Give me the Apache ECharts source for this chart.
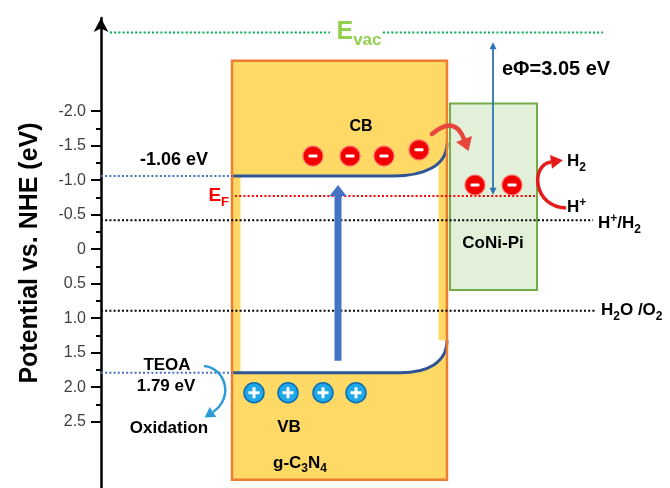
<!DOCTYPE html>
<html>
<head>
<meta charset="utf-8">
<script src="https://cdn.jsdelivr.net/npm/echarts@6/dist/echarts.min.js"></script>
<style>
  html, body { margin: 0; padding: 0; background: #fff; }
  #chart { width: 670px; height: 488px; }
</style>
</head>
<body>
<div id="chart"></div>
<script>
// ---- Potential scale (eV vs. NHE) ----
const majorTicks = [-2.0, -1.5, -1.0, -0.5, 0, 0.5, 1.0, 1.5, 2.0, 2.5];
const minorTicks = [-1.75, -1.25, -0.75, -0.25, 0.25, 0.75, 1.25, 1.75, 2.25];

// ---- g-C3N4 bands ----
const cbLevel = -1.06;          // conduction band minimum
const vbLevel = 1.79;           // valence band maximum
const cbBentEdge = -1.54;       // band bending at the interface
const vbBentEdge = 1.32;
const gcnExtent = [-2.73, 3.34];

// ---- CoNi-Pi cocatalyst ----
const coniExtent = [-2.11, 0.59];
const fermiLevel = -0.77;
const vacuumLevel = -3.14;

// ---- redox potentials ----
const hPlusH2 = -0.42;
const h2oO2 = 0.89;

// ---- charge carriers ----
const cbElectrons = [-1.35, -1.35, -1.35, -1.44];
const coniElectrons = [-0.93, -0.93];
const vbHoles = [2.08, 2.08, 2.08, 2.08];

// ---- arrows ----
const excitation = [1.615, -0.93];
const workFunction = [-3.0, -0.79];

// ---- horizontal layout of the scheme (x units from the potential axis) ----
const L = {
  gcnLeft: 131, gcnRight: 346, strip: 8.5,
  bendStartCB: 292, bendStartVB: 299,
  coniLeft: 349, coniRight: 436,
  cbElectronX: [212, 249, 283, 318],
  coniElectronX: [374, 411],
  holeX: [153, 187, 222, 255],
  excitationX: 237, phiX: 392,
  evacSegments: [[9, 229], [282, 502]],
  efSpan: [134, 434],
  hLineEnd: 492, oLineEnd: 494
};

const FONT = '"Liberation Sans", Arial, sans-serif';
const C = {
  box: '#FFD966', boxEdge: '#ED7D31', band: '#2F5597', bandDot: '#4472C4',
  coni: '#E2F0D9', coniEdge: '#70AD47', red: '#FF0000', green: '#00B050',
  greenText: '#92D050', blueArrow: '#4472C4', phi: '#2E75B6', teoa: '#2E9BD6'
};

const mctx = document.createElement('canvas').getContext('2d');
function textWidth(str, size) {
  mctx.font = 'bold ' + size + 'px ' + FONT;
  return mctx.measureText(str).width;
}
// parts: [text, fontSize, baselineShift]
function richText(pt, parts, align, color) {
  const widths = parts.map(p => textWidth(p[0], p[1]));
  const total = widths.reduce((a, b) => a + b, 0);
  let x = align === 'left' ? pt[0] : align === 'right' ? pt[0] - total : pt[0] - total / 2;
  const baseline = pt[1] + 0.36 * parts[0][1];
  return {
    type: 'group',
    children: parts.map((p, i) => {
      const el = {
        type: 'text',
        style: {
          x: x, y: baseline + (p[2] || 0) - 0.36 * p[1],
          text: p[0], font: 'bold ' + p[1] + 'px ' + FONT,
          fill: color, align: 'left', verticalAlign: 'middle'
        }
      };
      x += widths[i];
      return el;
    })
  };
}

function arrowHead(base, dir, len, half, color) {
  const n = Math.hypot(dir[0], dir[1]);
  const ux = dir[0] / n, uy = dir[1] / n;
  const tip = [base[0] + ux * len, base[1] + uy * len];
  return {
    type: 'polygon',
    shape: { points: [tip, [base[0] - uy * half, base[1] + ux * half], [base[0] + uy * half, base[1] - ux * half]] },
    style: { fill: color }
  };
}

function levelLine(name, from, to, level, color) {
  return {
    type: 'line', name: name, data: [[from, level], [to, level]],
    symbol: 'none', silent: true, z: 6,
    lineStyle: { color: color, width: 2, type: [2, 2.2] }
  };
}

// text annotations: [x, potential, parts, align, color]
const labels = [
  [73, -1.29, [['-1.06 eV', 18]], 'center', '#000'],
  [128, fermiLevel, [['E', 19], ['F', 13, 4]], 'right', C.red],
  [258, vacuumLevel, [['E', 25], ['vac', 17, 5]], 'center', C.greenText],
  [260, -1.77, [['CB', 16]], 'center', '#000'],
  [401, -2.6, [['eΦ=3.05 eV', 20]], 'left', '#000'],
  [466, -1.27, [['H', 17], ['2', 12, 4]], 'left', '#000'],
  [466, -0.60, [['H', 17], ['+', 12, -7]], 'left', '#000'],
  [497, hPlusH2 + 0.05, [['H', 17], ['+', 12, -7], ['/H', 17], ['2', 12, 4]], 'left', '#000'],
  [392, -0.09, [['CoNi-Pi', 17]], 'center', '#000'],
  [500, h2oO2, [['H', 17], ['2', 12, 4], ['O /O', 17], ['2', 12, 4]], 'left', '#000'],
  [66, 1.68, [['TEOA', 17]], 'center', '#000'],
  [65, 1.98, [['1.79 eV', 17]], 'center', '#000'],
  [68, 2.59, [['Oxidation', 17]], 'center', '#000'],
  [188, 2.58, [['VB', 17]], 'center', '#000'],
  [199, 3.10, [['g-C', 17], ['3', 12, 4], ['N', 17], ['4', 12, 4]], 'center', '#000']
];

const chart = echarts.init(document.getElementById('chart'));

const option = {
  animation: false,
  grid: { left: 101, right: 0, top: 18, bottom: 0 },
  xAxis: { type: 'value', min: 0, max: 569, show: false },
  yAxis: [
    {
      type: 'value', inverse: true, min: -3.35, max: 3.46, position: 'left',
      axisLine: { show: true, symbol: ['none', 'arrow'], symbolSize: [11, 14], lineStyle: { color: '#000', width: 2.5 } },
      axisTick: { show: true, customValues: majorTicks, length: 10, lineStyle: { color: '#000', width: 2 } },
      axisLabel: {
        show: true, customValues: majorTicks, margin: 15,
        formatter: v => (v === 0 ? '0' : v.toFixed(1)),
        color: '#404040', fontSize: 16, fontFamily: FONT
      },
      splitLine: { show: false },
      name: 'Potential vs. NHE (eV)', nameLocation: 'middle', nameGap: 58,
      nameTextStyle: { fontSize: 25, fontWeight: 'bold', color: '#000', fontFamily: FONT }
    },
    {
      type: 'value', inverse: true, min: -3.35, max: 3.46, position: 'left',
      axisLine: { show: false },
      axisTick: { show: true, customValues: minorTicks, length: 5, lineStyle: { color: '#000', width: 2 } },
      axisLabel: { show: false },
      splitLine: { show: false }
    }
  ],
  series: [
    // g-C3N4 block with bent bands
    {
      type: 'custom', z: 2, data: [[0, 0]],
      renderItem: (params, api) => {
        const tl = api.coord([L.gcnLeft, gcnExtent[0]]);
        const br = api.coord([L.gcnRight, gcnExtent[1]]);
        const cbL = api.coord([L.gcnLeft, cbLevel]);
        const cbS = api.coord([L.bendStartCB, cbLevel]);
        const cbE = api.coord([L.gcnRight, cbBentEdge]);
        const vbL = api.coord([L.gcnLeft, vbLevel]);
        const vbS = api.coord([L.bendStartVB, vbLevel]);
        const vbE = api.coord([L.gcnRight, vbBentEdge]);
        const bend = (s, e) => [[s[0] + 0.58 * (e[0] - s[0]), s[1]], [e[0], e[1] + 0.69 * (s[1] - e[1])]];
        const [c1, c2] = bend(cbS, cbE);
        const [v1, v2] = bend(vbS, vbE);
        const P = p => p[0].toFixed(2) + ' ' + p[1].toFixed(2);
        const gap = 'M ' + P(cbL) + ' L ' + P(cbS) + ' C ' + P(c1) + ' ' + P(c2) + ' ' + P(cbE) +
          ' L ' + P(vbE) + ' C ' + P(v2) + ' ' + P(v1) + ' ' + P(vbS) + ' L ' + P(vbL) + ' Z';
        const cbPath = 'M ' + P(cbL) + ' L ' + P(cbS) + ' C ' + P(c1) + ' ' + P(c2) + ' ' + P(cbE);
        const vbPath = 'M ' + P(vbL) + ' L ' + P(vbS) + ' C ' + P(v1) + ' ' + P(v2) + ' ' + P(vbE);
        const w = br[0] - tl[0], h = br[1] - tl[1];
        return {
          type: 'group',
          children: [
            { type: 'rect', shape: { x: tl[0], y: tl[1], width: w, height: h }, style: { fill: C.box } },
            { type: 'path', shape: { pathData: gap }, style: { fill: '#fff' } },
            { type: 'rect', shape: { x: tl[0], y: cbL[1], width: L.strip, height: vbL[1] - cbL[1] }, style: { fill: C.box } },
            { type: 'rect', shape: { x: br[0] - L.strip, y: cbE[1], width: L.strip, height: vbE[1] - cbE[1] }, style: { fill: C.box } },
            { type: 'path', shape: { pathData: cbPath }, style: { fill: 'none', stroke: C.band, lineWidth: 3 } },
            { type: 'path', shape: { pathData: vbPath }, style: { fill: 'none', stroke: C.band, lineWidth: 3 } },
            { type: 'rect', shape: { x: tl[0], y: tl[1], width: w, height: h }, style: { fill: 'none', stroke: C.boxEdge, lineWidth: 2.5 } }
          ]
        };
      }
    },
    // CoNi-Pi block
    {
      type: 'custom', z: 2, data: [[0, 0]],
      renderItem: (params, api) => {
        const tl = api.coord([L.coniLeft, coniExtent[0]]);
        const br = api.coord([L.coniRight, coniExtent[1]]);
        return {
          type: 'rect', shape: { x: tl[0], y: tl[1], width: br[0] - tl[0], height: br[1] - tl[1] },
          style: { fill: C.coni, stroke: C.coniEdge, lineWidth: 2 }
        };
      }
    },
    // energy levels
    levelLine('Evac-a', L.evacSegments[0][0], L.evacSegments[0][1], vacuumLevel, C.green),
    levelLine('Evac-b', L.evacSegments[1][0], L.evacSegments[1][1], vacuumLevel, C.green),
    levelLine('CB', 0, L.gcnLeft, cbLevel, C.bandDot),
    levelLine('VB', 0, L.gcnLeft, vbLevel, C.bandDot),
    levelLine('EF', L.efSpan[0], L.efSpan[1], fermiLevel, C.red),
    levelLine('H+/H2', 0, L.hLineEnd, hPlusH2, '#000'),
    levelLine('H2O/O2', 0, L.oLineEnd, h2oO2, '#000'),
    // excitation and work-function arrows
    {
      type: 'custom', z: 7, data: [[0, 0]],
      renderItem: (params, api) => {
        const b = api.coord([L.excitationX, excitation[0]]);
        const t = api.coord([L.excitationX, excitation[1]]);
        const headLen = 11;
        const p0 = api.coord([L.phiX, workFunction[0]]);
        const p1 = api.coord([L.phiX, workFunction[1]]);
        return {
          type: 'group',
          children: [
            { type: 'rect', shape: { x: b[0] - 3.5, y: t[1] + headLen - 0.5, width: 7, height: b[1] - t[1] - headLen + 0.5 }, style: { fill: C.blueArrow } },
            arrowHead([t[0], t[1] + headLen], [0, -1], headLen, 8.5, C.blueArrow),
            { type: 'line', shape: { x1: p0[0], y1: p0[1] + 6, x2: p1[0], y2: p1[1] - 6 }, style: { stroke: C.phi, lineWidth: 1.8 } },
            arrowHead([p0[0], p0[1] + 7], [0, -1], 7, 3.5, C.phi),
            arrowHead([p1[0], p1[1] - 7], [0, 1], 7, 3.5, C.phi)
          ]
        };
      }
    },
    // curved reaction arrows
    {
      type: 'custom', z: 7, data: [[0, 0]],
      renderItem: (params, api) => {
        const P = p => p[0].toFixed(2) + ' ' + p[1].toFixed(2);
        // electron transfer g-C3N4 -> CoNi-Pi
        const a0 = api.coord([331, -1.67]), ac = api.coord([354, -1.946]), a1 = api.coord([363, -1.598]);
        // H+ -> H2
        const h0 = api.coord([465, -0.598]), h1 = api.coord([432, -0.612]), h2 = api.coord([429, -1.221]), h3 = api.coord([450, -1.265]);
        // TEOA oxidation
        const t0 = api.coord([103, 1.692]), t1 = api.coord([125, 1.721]), t2 = api.coord([133, 2.156]), t3 = api.coord([112, 2.358]);
        return {
          type: 'group',
          children: [
            { type: 'path', shape: { pathData: 'M ' + P(a0) + ' Q ' + P(ac) + ' ' + P(a1) }, style: { fill: 'none', stroke: '#E8453C', lineWidth: 4.5, lineCap: 'round' } },
            arrowHead(a1, [a1[0] - ac[0], a1[1] - ac[1]], 13, 8.5, '#E8453C'),
            { type: 'path', shape: { pathData: 'M ' + P(h0) + ' C ' + P(h1) + ' ' + P(h2) + ' ' + P(h3) }, style: { fill: 'none', stroke: '#E51B1B', lineWidth: 3.5 } },
            arrowHead(h3, [h3[0] - h2[0], h3[1] - h2[1]], 12, 7, '#E51B1B'),
            { type: 'path', shape: { pathData: 'M ' + P(t0) + ' C ' + P(t1) + ' ' + P(t2) + ' ' + P(t3) }, style: { fill: 'none', stroke: C.teoa, lineWidth: 2.5 } },
            arrowHead(t3, [t3[0] - t2[0], t3[1] - t2[1]], 10, 6, C.teoa)
          ]
        };
      }
    },
    // electrons
    {
      type: 'custom', z: 8,
      data: cbElectrons.map((e, i) => [L.cbElectronX[i], e]).concat(coniElectrons.map((e, i) => [L.coniElectronX[i], e])),
      renderItem: (params, api) => {
        const c = api.coord([api.value(0), api.value(1)]);
        return {
          type: 'group',
          children: [
            { type: 'circle', shape: { cx: c[0], cy: c[1], r: 10 }, style: { fill: '#F20000', stroke: '#FF6B6B', lineWidth: 1.2 } },
            { type: 'rect', shape: { x: c[0] - 4.5, y: c[1] - 1.5, width: 9, height: 3, r: 1 }, style: { fill: '#fff' } }
          ]
        };
      }
    },
    // holes
    {
      type: 'custom', z: 8,
      data: vbHoles.map((e, i) => [L.holeX[i], e]),
      renderItem: (params, api) => {
        const c = api.coord([api.value(0), api.value(1)]);
        return {
          type: 'group',
          children: [
            { type: 'circle', shape: { cx: c[0], cy: c[1], r: 10 }, style: { fill: '#1FA8E8', stroke: '#0B6DB0', lineWidth: 1.5 } },
            { type: 'rect', shape: { x: c[0] - 5.5, y: c[1] - 1.5, width: 11, height: 3 }, style: { fill: '#fff' } },
            { type: 'rect', shape: { x: c[0] - 1.5, y: c[1] - 5.5, width: 3, height: 11 }, style: { fill: '#fff' } }
          ]
        };
      }
    },
    // text annotations
    {
      type: 'custom', z: 9,
      data: labels.map((l, i) => [l[0], l[1], i]),
      renderItem: (params, api) => {
        const l = labels[api.value(2)];
        const pt = api.coord([api.value(0), api.value(1)]);
        return richText(pt, l[2], l[3], l[4]);
      }
    }
  ]
};

chart.setOption(option);
</script>
</body>
</html>
